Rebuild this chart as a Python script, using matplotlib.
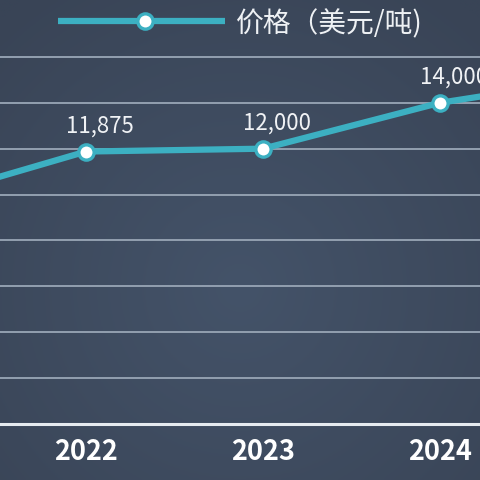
import numpy as np
import matplotlib
matplotlib.use("Agg")
import matplotlib.pyplot as plt

plt.rcParams['font.family'] = ['Noto Sans CJK SC', 'DejaVu Sans']

# data (2021 and 2025 are only partly visible at the edges)
years = [2021, 2022, 2023, 2024, 2025]
prices = [9625, 11875, 12000, 14000, 15200]
shown_labels = {2022: "11,875", 2023: "12,000", 2024: "14,000"}
tick_years = [2022, 2023, 2024]
legend_text = "价格（美元/吨)"

line_color = "#3cb0c2"

fig = plt.figure(figsize=(4.8, 4.8), dpi=100)

# background gradient, lighter in the middle
bg = fig.add_axes([0, 0, 1, 1])
yy, xx = np.mgrid[0:1:200j, 0:1:200j]
d = np.sqrt((xx - 0.5) ** 2 + (yy - 0.4) ** 2)
base_dark = np.array([0x39, 0x44, 0x56]) / 255
base_light = np.array([0x44, 0x53, 0x69]) / 255
t = np.clip(d / 0.75, 0, 1)[..., None]
img = base_light * (1 - t) + base_dark * t
bg.imshow(img, extent=[0, 1, 0, 1], aspect="auto", origin="lower")
bg.axis("off")

ax = fig.add_axes([0, 56 / 480, 1, 424 / 480])
ax.patch.set_alpha(0)
ax.set_xlim(2021.514, 2024.226)
ax.set_ylim(0, 18480)

for gy in range(2000, 18000, 2000):
    ax.axhline(gy, color="#93a0b0", lw=1.4, zorder=1)
ax.axhline(0, color="#e6ebf0", lw=2.2, zorder=1, clip_on=False)

ax.plot(years, prices, color=line_color, lw=4.5, zorder=3,
        marker="o", markersize=11, markerfacecolor="white",
        markeredgecolor=line_color, markeredgewidth=2.4)

for x, y in zip(years, prices):
    if x in shown_labels:
        ax.annotate(shown_labels[x], (x, y), xytext=(10, 10),
                    textcoords="offset points", ha="center", va="bottom",
                    color="#f0f2f5", fontsize=16)

ax.set_xticks(tick_years)
ax.set_xticklabels([str(y) for y in tick_years], fontsize=19.5,
                   fontweight="bold", color="white")
ax.tick_params(axis="x", length=0, pad=10)
ax.set_yticks([])
for s in ax.spines.values():
    s.set_visible(False)

# legend drawn by hand
lg = fig.add_axes([0, 0, 1, 1])
lg.set_xlim(0, 480)
lg.set_ylim(480, 0)
lg.axis("off")
lg.plot([58, 225], [21, 21], color=line_color, lw=4.5, solid_capstyle="butt")
lg.plot([145], [21], marker="o", markersize=11, markerfacecolor="white",
        markeredgecolor=line_color, markeredgewidth=2.4)
lg.text(236, 24, legend_text, fontsize=20, color="#eef1f4",
        ha="left", va="center")

fig.savefig("out.png", dpi=100)
